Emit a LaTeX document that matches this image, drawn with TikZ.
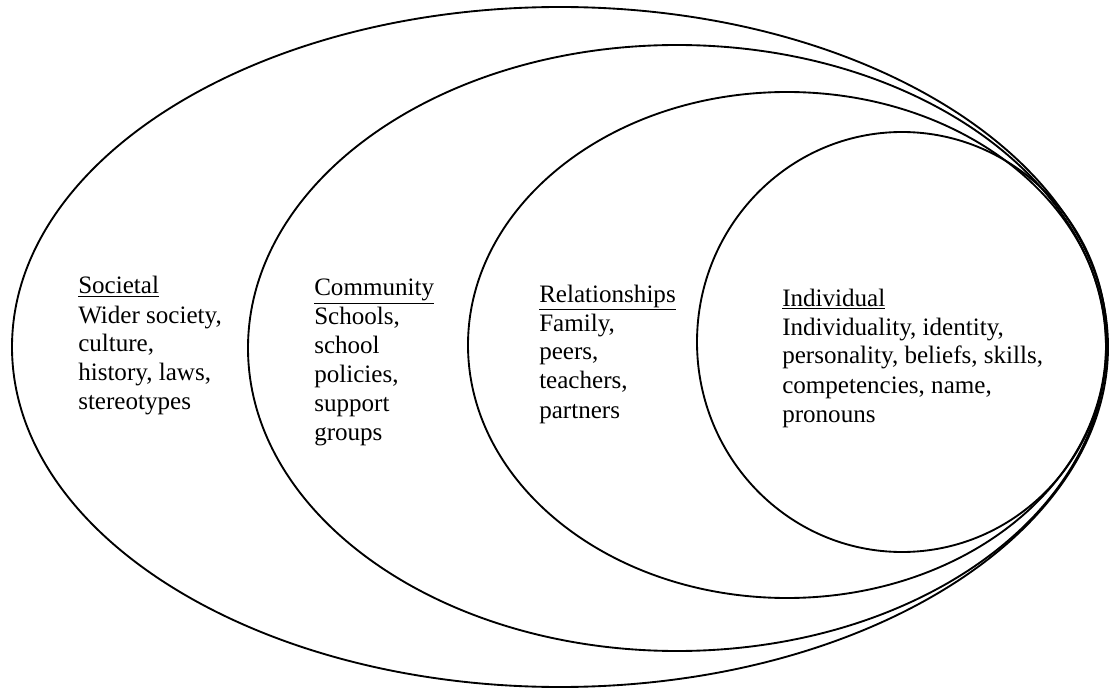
\documentclass[tikz,border=0pt]{standalone}
\usepackage{fontspec}
\setmainfont{Liberation Serif}
\begin{document}
\begin{tikzpicture}[x=0.75pt,y=-0.75pt,
  ring/.style={draw=black,line width=1.4pt},
  label/.style={anchor=base west,inner sep=0pt,font=\fontsize{18.8}{21.75}\selectfont}]
\useasboundingbox (0,0) rectangle (1111,688);
\draw[ring] (560,347) ellipse [x radius=411pt, y radius=255pt];
\draw[ring] (677,348) ellipse [x radius=321.75pt, y radius=227.25pt];
\draw[ring] (787,345) ellipse [x radius=239.25pt, y radius=189.75pt];
\draw[ring] (902,342) ellipse [x radius=153.75pt, y radius=157.5pt];
\node[label] (societal) at (78,294) {\begin{tabular}[t]{@{}l@{}}\underline{Societal}\\Wider society,\\culture,\\history, laws,\\stereotypes\end{tabular}};
\node[label] (community) at (314,296) {\begin{tabular}[t]{@{}l@{}}\underline{Community}\\Schools,\\school\\policies,\\support\\groups\end{tabular}};
\node[label] (relationships) at (539,302) {\begin{tabular}[t]{@{}l@{}}\underline{Relationships}\\Family,\\peers,\\teachers,\\partners\end{tabular}};
\node[label] (individual) at (782,306) {\begin{tabular}[t]{@{}l@{}}\underline{Individual}\\Individuality, identity,\\personality, beliefs, skills,\\competencies, name,\\pronouns\end{tabular}};
\end{tikzpicture}
\end{document}
